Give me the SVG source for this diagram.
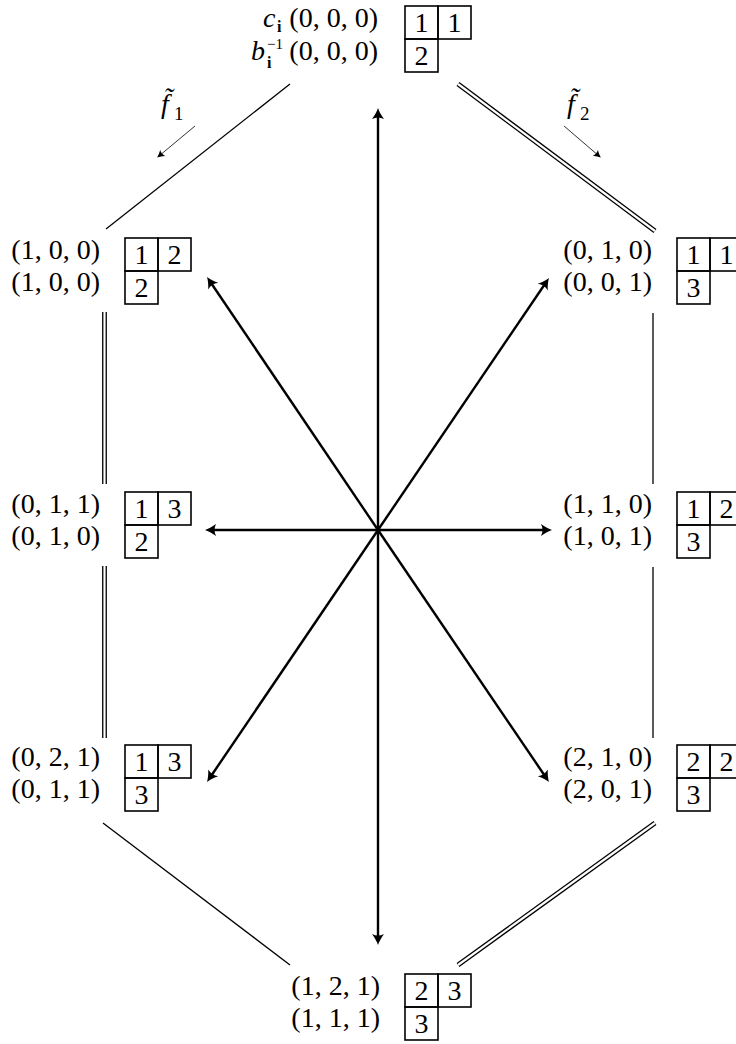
<svg xmlns="http://www.w3.org/2000/svg" width="736" height="1044" viewBox="0 0 736 1044">
<style>
text{font-family:"Liberation Serif","DejaVu Serif",serif;font-size:28px;fill:#000}
.lab{text-anchor:end}
.cd{text-anchor:middle}
.it{font-style:italic}
.sub{font-size:19px}
.sup{font-size:15px}
.bsub{font-size:16px;font-weight:bold}
.cell{fill:none;stroke:#000;stroke-width:1.6}
.thin{fill:none;stroke:#000;stroke-width:1.3}
.dblo{fill:none;stroke:#000;stroke-width:4.8}
.dbli{fill:none;stroke:#fff;stroke-width:2.2}
.ax{fill:none;stroke:#000;stroke-width:2.4;marker-end:url(#ah)}
.fa{fill:none;stroke:#000;stroke-width:0.8;marker-end:url(#sah)}
</style>
<defs>
<marker id="ah" markerUnits="userSpaceOnUse" orient="auto" refX="0" refY="0" markerWidth="20" markerHeight="20" viewBox="-12 -7 20 14" overflow="visible">
<path d="M6,0 C3,-1 -1,-3 -5,-6 C-3,-2 -3,2 -5,6 C-1,3 3,1 6,0 Z" fill="#000"/>
</marker>
<marker id="sah" markerUnits="userSpaceOnUse" orient="auto" refX="0" refY="0" markerWidth="12" markerHeight="12" viewBox="-6 -4 10 8" overflow="visible">
<path d="M2,0 C0,-0.8 -2,-1.8 -4,-3.2 C-3,-1 -3,1 -4,3.2 C-2,1.8 0,0.8 2,0 Z" fill="#000"/>
</marker>
</defs>

<g id="connectors">
<line class="thin" x1="290" y1="84" x2="106" y2="229"/>
<line class="dblo" x1="458" y1="84" x2="655" y2="231"/>
<line class="dbli" x1="458" y1="84" x2="655" y2="231"/>
<line class="dblo" x1="104.5" y1="312" x2="104.5" y2="484"/>
<line class="dbli" x1="104.5" y1="312" x2="104.5" y2="484"/>
<line class="dblo" x1="104.5" y1="566" x2="104.5" y2="738"/>
<line class="dbli" x1="104.5" y1="566" x2="104.5" y2="738"/>
<line class="thin" x1="653" y1="313" x2="653" y2="484"/>
<line class="thin" x1="653" y1="567" x2="653" y2="738"/>
<line class="thin" x1="103" y1="823" x2="290" y2="965"/>
<line class="dblo" x1="655" y1="823" x2="458" y2="965"/>
<line class="dbli" x1="655" y1="823" x2="458" y2="965"/>
<line class="fa" x1="195" y1="126" x2="159" y2="156"/>
<line class="fa" x1="564" y1="126" x2="599" y2="156"/>
<line class="ax" x1="378" y1="530" x2="378" y2="114"/>
<line class="ax" x1="378" y1="530" x2="378" y2="939"/>
<line class="ax" x1="378" y1="530" x2="211" y2="530"/>
<line class="ax" x1="378" y1="530" x2="546" y2="530"/>
<line class="ax" x1="378" y1="530" x2="210.4" y2="282"/>
<line class="ax" x1="378" y1="530" x2="545.6" y2="283"/>
<line class="ax" x1="378" y1="530" x2="210.4" y2="777"/>
<line class="ax" x1="378" y1="530" x2="545.6" y2="777"/>
</g>

<g id="label-f1">
<text x="161" y="113" class="it">f̃</text><text x="174" y="120" class="sub">1</text>
</g>
<g id="label-f2">
<text x="567" y="113" class="it">f̃</text><text x="580" y="120" class="sub">2</text>
</g>

<g id="node-top">
<text x="263" y="27" class="it">c</text><text x="277" y="32" class="bsub">i</text>
<text x="378" y="27" class="lab">(0, 0, 0)</text>
<text x="251" y="60" class="it">b</text><text x="267" y="49" class="sup">−1</text><text x="267" y="68" class="bsub">i</text>
<text x="378" y="60" class="lab">(0, 0, 0)</text>
<rect class="cell" x="405" y="6" width="33" height="33"/>
<rect class="cell" x="438" y="6" width="33" height="33"/>
<rect class="cell" x="405" y="39" width="33" height="33"/>
<text x="421.5" y="32" class="cd">1</text><text x="454.5" y="32" class="cd">1</text>
<text x="421.5" y="65" class="cd">2</text>
</g>

<g id="node-100">
<text x="100" y="259" class="lab">(1, 0, 0)</text>
<text x="100" y="291" class="lab">(1, 0, 0)</text>
<rect class="cell" x="125" y="238" width="33" height="33"/>
<rect class="cell" x="158" y="238" width="33" height="33"/>
<rect class="cell" x="125" y="271" width="33" height="33"/>
<text x="141.5" y="264" class="cd">1</text><text x="174.5" y="264" class="cd">2</text>
<text x="141.5" y="297" class="cd">2</text>
</g>

<g id="node-011">
<text x="100" y="513" class="lab">(0, 1, 1)</text>
<text x="100" y="545" class="lab">(0, 1, 0)</text>
<rect class="cell" x="125" y="492" width="33" height="33"/>
<rect class="cell" x="158" y="492" width="33" height="33"/>
<rect class="cell" x="125" y="525" width="33" height="33"/>
<text x="141.5" y="518" class="cd">1</text><text x="174.5" y="518" class="cd">3</text>
<text x="141.5" y="551" class="cd">2</text>
</g>

<g id="node-021">
<text x="100" y="766" class="lab">(0, 2, 1)</text>
<text x="100" y="798" class="lab">(0, 1, 1)</text>
<rect class="cell" x="125" y="745" width="33" height="33"/>
<rect class="cell" x="158" y="745" width="33" height="33"/>
<rect class="cell" x="125" y="778" width="33" height="33"/>
<text x="141.5" y="771" class="cd">1</text><text x="174.5" y="771" class="cd">3</text>
<text x="141.5" y="804" class="cd">3</text>
</g>

<g id="node-010">
<text x="652" y="259" class="lab">(0, 1, 0)</text>
<text x="652" y="291" class="lab">(0, 0, 1)</text>
<rect class="cell" x="677" y="238" width="33" height="33"/>
<rect class="cell" x="710" y="238" width="33" height="33"/>
<rect class="cell" x="677" y="271" width="33" height="33"/>
<text x="693.5" y="264" class="cd">1</text><text x="726.5" y="264" class="cd">1</text>
<text x="693.5" y="297" class="cd">3</text>
</g>

<g id="node-110">
<text x="652" y="513" class="lab">(1, 1, 0)</text>
<text x="652" y="545" class="lab">(1, 0, 1)</text>
<rect class="cell" x="677" y="492" width="33" height="33"/>
<rect class="cell" x="710" y="492" width="33" height="33"/>
<rect class="cell" x="677" y="525" width="33" height="33"/>
<text x="693.5" y="518" class="cd">1</text><text x="726.5" y="518" class="cd">2</text>
<text x="693.5" y="551" class="cd">3</text>
</g>

<g id="node-210">
<text x="652" y="766" class="lab">(2, 1, 0)</text>
<text x="652" y="798" class="lab">(2, 0, 1)</text>
<rect class="cell" x="677" y="745" width="33" height="33"/>
<rect class="cell" x="710" y="745" width="33" height="33"/>
<rect class="cell" x="677" y="778" width="33" height="33"/>
<text x="693.5" y="771" class="cd">2</text><text x="726.5" y="771" class="cd">2</text>
<text x="693.5" y="804" class="cd">3</text>
</g>

<g id="node-bottom">
<text x="380" y="995" class="lab">(1, 2, 1)</text>
<text x="380" y="1027" class="lab">(1, 1, 1)</text>
<rect class="cell" x="405" y="974" width="33" height="33"/>
<rect class="cell" x="438" y="974" width="33" height="33"/>
<rect class="cell" x="405" y="1007" width="33" height="33"/>
<text x="421.5" y="1000" class="cd">2</text><text x="454.5" y="1000" class="cd">3</text>
<text x="421.5" y="1033" class="cd">3</text>
</g>
</svg>
